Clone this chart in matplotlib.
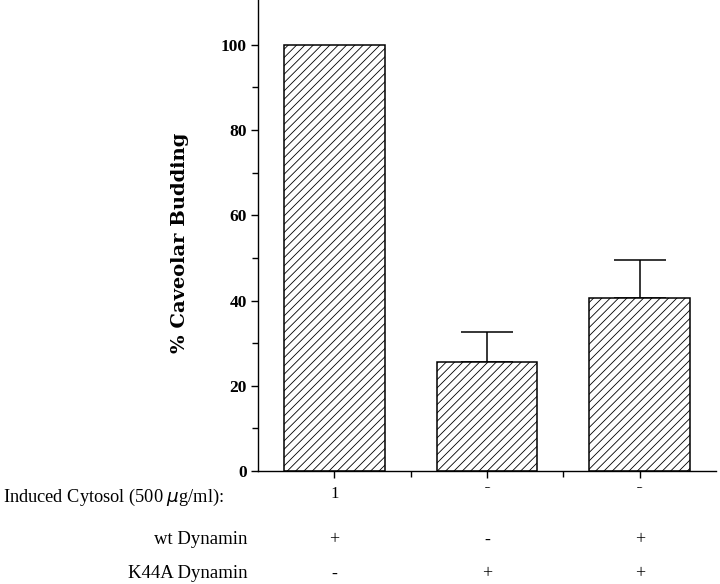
import numpy as np
import matplotlib.pyplot as plt
from matplotlib.transforms import Bbox

# data
groups = [1, 2, 3]
budding = [100.0, 25.6, 40.6]
budding_err = [0.0, 7.0, 8.8]
wt_dynamin = ['+', '-', '+']
k44a_dynamin = ['-', '+', '+']

serif = ['Liberation Serif', 'DejaVu Serif']
plt.rcParams['hatch.linewidth'] = 0.6
plt.rcParams['hatch.color'] = '#333333'

fig = plt.figure(figsize=(7.2, 5.84), dpi=100)
ax = fig.add_axes([258 / 720, 1 - 471 / 584, 458 / 720, 471 / 584])

x = np.array(groups, dtype=float)
ax.bar(x, budding, width=0.66, color='white', edgecolor='black',
       linewidth=1.1, hatch='////', zorder=2)

err = np.array(budding_err)
m = err > 0
ax.errorbar(x[m], np.array(budding)[m], yerr=[np.zeros(m.sum()), err[m]],
            fmt='none', ecolor='black', elinewidth=1.1, capsize=18.5,
            capthick=1.1, zorder=1)

ax.set_xlim(0.5, 3.5)
ax.set_ylim(0, 110.5)
ax.spines['top'].set_visible(False)
ax.spines['right'].set_visible(False)
ax.spines['left'].set_linewidth(1.0)
ax.spines['bottom'].set_linewidth(1.0)

ax.set_yticks(np.arange(0, 101, 20))
ax.set_yticks(np.arange(10, 101, 20), minor=True)
ax.set_xticks(groups)
ax.set_xticks([1.5, 2.5], minor=True)
ax.tick_params(axis='both', which='major', direction='out', length=5, width=1)
ax.tick_params(axis='both', which='minor', direction='out', length=4, width=1)
ax.tick_params(axis='y', pad=3)
ax.tick_params(axis='x', pad=6)

for lab in ax.get_yticklabels():
    lab.set_fontfamily(serif)
    lab.set_fontweight('bold')
    lab.set_fontsize(12.5)

ax.set_xticklabels([str(g) for g in groups], fontfamily=serif, fontsize=12)
fig.canvas.draw()
# labels 2 and 3 are cut off in the original, only their tops show
clip = Bbox([[0, 584 - 488], [720, 584 - 470]])
for lab in ax.get_xticklabels()[1:]:
    lab.set_clip_box(clip)
    lab.set_clip_on(True)

fig.text(180 / 720, 1 - 243 / 584, '% Caveolar Budding', rotation=90,
         ha='center', va='center', fontfamily=['DejaVu Serif'],
         fontweight='bold', fontsize=14)

fig.text(3 / 720, 1 - 497 / 584, 'Induced Cytosol (500 $\\mu$g/ml):',
         ha='left', va='center', fontfamily=serif, fontsize=13.2)
fig.text(248 / 720, 1 - 540 / 584, 'wt Dynamin', ha='right', va='center',
         fontfamily=serif, fontsize=13.5)
fig.text(248 / 720, 1 - 573 / 584, 'K44A Dynamin', ha='right', va='center',
         fontfamily=serif, fontsize=13.5)

for g, w, k in zip(groups, wt_dynamin, k44a_dynamin):
    xd = ax.transData.transform((g, 0))[0] / 720
    fig.text(xd, 1 - 540 / 584, w, ha='center', va='center',
             fontfamily=serif, fontsize=13)
    fig.text(xd, 1 - 574 / 584, k, ha='center', va='center',
             fontfamily=serif, fontsize=13)

fig.savefig('out.png', dpi=100)
